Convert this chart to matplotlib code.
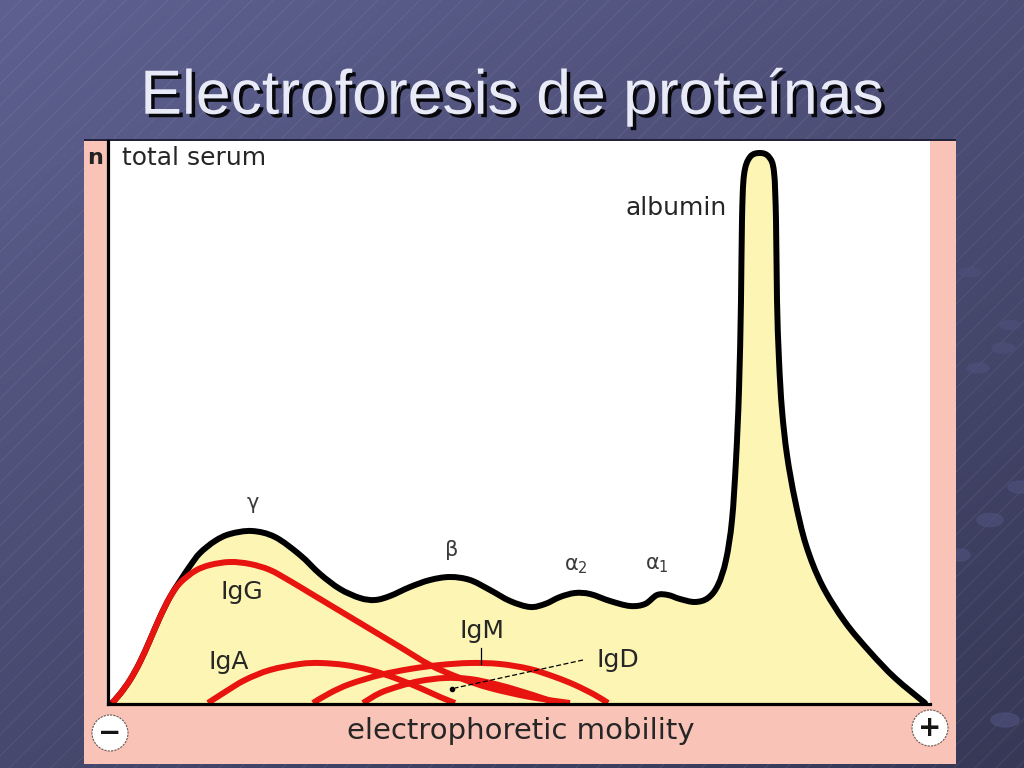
import numpy as np
import matplotlib
matplotlib.use("Agg")
import matplotlib.pyplot as plt
from matplotlib.patches import Rectangle, Circle, Ellipse, PathPatch
from matplotlib.path import Path
import matplotlib.patheffects as pe

# ---------------- data (mobility, relative concentration) ----------------
total_x = [2, 10, 20, 30, 40, 50, 60, 70, 80, 90, 105, 120, 142, 165, 190, 210,
           230, 250, 265, 280, 300, 320, 340, 360, 380, 400, 420, 435, 450, 465,
           480, 500, 520, 535, 547, 558, 570, 585, 598, 608, 616, 622, 626, 629,
           631, 632, 634, 640, 650, 659, 664, 666, 667, 669, 672, 677, 685, 696,
           712, 735, 760, 785, 815]
total_y = [0, 9, 23, 41, 63, 86, 106, 122, 137, 150, 162, 169, 172, 166, 148, 129,
           114, 105, 103, 107, 116, 123, 126, 123, 113, 102, 96, 99, 106, 110,
           109, 102, 97, 99, 108, 108, 104, 101, 105, 118, 143, 183, 243, 313,
           403, 483, 528, 546, 550, 546, 531, 483, 403, 343, 293, 248, 203, 158,
           118, 81, 51, 25, 0]

igg_x = [2, 10, 20, 30, 40, 50, 60, 70, 85, 100, 120, 140, 160, 180, 200, 220,
         240, 260, 290, 320, 350, 380, 420, 460]
igg_y = [0, 9, 23, 41, 63, 86, 106, 120, 132, 138, 141, 139, 133, 122, 110, 98,
         86, 74, 56, 38, 25, 15, 6, 0]

iga_x = [98, 115, 135, 160, 190, 210, 235, 260, 285, 310, 330, 345]
iga_y = [0, 11, 23, 33, 39, 40, 38, 33, 25, 15, 6, 0]

igm_x = [203, 220, 240, 270, 300, 330, 360, 390, 420, 445, 465, 485, 498]
igm_y = [0, 10, 19, 28, 34, 38, 40, 39, 34, 26, 18, 8, 0]

igd_x = [253, 270, 290, 310, 335, 360, 385, 410, 435, 445]
igd_y = [0, 10, 17, 22, 25, 24, 19, 12, 4, 0]

peak_labels = [r"$\mathregular{\gamma}$", r"$\mathregular{\beta}$",
               r"$\mathregular{\alpha_2}$", r"$\mathregular{\alpha_1}$"]
peak_label_x = [143, 341, 466, 547]
peak_label_y = [198, 153, 137, 138]

ig_labels = ["IgG", "IgA", "IgM", "IgD"]
ig_label_x = [132, 119, 372, 508]
ig_label_y = [111, 41, 72, 43]

title = "Electroforesis de proteínas"
xlabel = "electrophoretic mobility"


def smooth_path(xs, ys, close_to_base=False):
    """Catmull-Rom curve through the read points, rendered as Bezier path."""
    p = np.column_stack([xs, ys]).astype(float)
    n = len(p)
    verts = [p[0]]
    codes = [Path.MOVETO]
    for i in range(n - 1):
        p0 = p[max(i - 1, 0)]
        p1 = p[i]
        p2 = p[i + 1]
        p3 = p[min(i + 2, n - 1)]
        c1 = p1 + (p2 - p0) / 6.0
        c2 = p2 - (p3 - p1) / 6.0
        verts += [c1, c2, p2]
        codes += [Path.CURVE4] * 3
    if close_to_base:
        verts += [p[0], p[0]]
        codes += [Path.LINETO, Path.CLOSEPOLY]
    return Path(np.array(verts), codes)


# ---------------- figure ----------------
W, H = 1024, 768
fig = plt.figure(figsize=(W / 100, H / 100), dpi=100)

bg = fig.add_axes([0, 0, 1, 1])
bg.set_xlim(0, W)
bg.set_ylim(H, 0)
bg.axis("off")

c1 = np.array([94, 96, 144]) / 255.0
c2 = np.array([54, 56, 86]) / 255.0
gx, gy = np.meshgrid(np.linspace(0, 1, 256), np.linspace(0, 1, 192))
t = np.clip((gx * 0.6 + gy * 0.9) / 1.5, 0, 1)[..., None]
grad = c1 * (1 - t) + c2 * t
bg.imshow(grad, extent=[0, W, H, 0], aspect="auto", zorder=0)

for x0 in np.arange(-H, W + H, 21):
    bg.plot([x0, x0 + H], [H, 0], color="white", alpha=0.09, lw=0.6, zorder=1)

for (ex, ey, ew, eh) in [(970, 272, 22, 9), (1010, 325, 20, 9), (1003, 348, 22, 10),
                         (978, 368, 22, 10), (1020, 487, 24, 12), (990, 520, 26, 13),
                         (960, 555, 20, 12), (1005, 720, 28, 14)]:
    bg.add_patch(Ellipse((ex, ey), ew, eh, color=(0.30, 0.31, 0.48), alpha=0.7, zorder=1))

bg.text(512, 97, title, fontsize=45, family="Liberation Sans", color="#e8eaf7",
        ha="center", va="center", zorder=3,
        path_effects=[pe.withSimplePatchShadow(offset=(2.5, -2.5), shadow_rgbFace="black", alpha=0.9)])

bg.add_patch(Rectangle((84, 141), 872, 623, facecolor="#f9c3b8", edgecolor="none", zorder=2))
bg.add_patch(Rectangle((84, 139), 872, 2, facecolor="#22223a", edgecolor="none", zorder=2))

bg.text(87, 158, "n", fontsize=16, fontweight="bold", color="#222222", ha="left", va="center", zorder=3)

bg.text(521, 731, xlabel, fontsize=21, color="#262626", ha="center", va="center", zorder=3)
for cx, cy, sym in [(110, 733, "−"), (930, 728, "+")]:
    bg.add_patch(Circle((cx, cy), 18, facecolor="white", edgecolor="#6b5a50",
                        lw=0.8, linestyle=(0, (2, 1)), zorder=3))
    bg.text(cx, cy, sym, fontsize=20, fontweight="bold", color="#151515",
            ha="center", va="center", zorder=4)

# ---------------- main chart axes ----------------
ax = fig.add_axes([108 / W, 1 - 704 / H, 822 / W, 563 / H])
ax.set_xlim(-2, 820)
ax.set_ylim(-1, 562)
ax.set_facecolor("white")
for s in ["top", "right"]:
    ax.spines[s].set_visible(False)
for s in ["left", "bottom"]:
    ax.spines[s].set_linewidth(2.3)
    ax.spines[s].set_color("black")
    ax.spines[s].set_zorder(6)
ax.set_xticks([])
ax.set_yticks([])

ax.add_patch(PathPatch(smooth_path(total_x, total_y, close_to_base=True),
                       facecolor="#fcf5b4", edgecolor="none", zorder=1))
ax.add_patch(PathPatch(smooth_path(total_x, total_y), facecolor="none",
                       edgecolor="black", lw=4.3, joinstyle="round", capstyle="round", zorder=2))

red = "#e8140f"
for xs, ys in [(iga_x, iga_y), (igd_x, igd_y), (igm_x, igm_y), (igg_x, igg_y)]:
    ax.add_patch(PathPatch(smooth_path(xs, ys), facecolor="none", edgecolor=red,
                           lw=4.3, joinstyle="round", zorder=3))

for lab, lx, ly in zip(peak_labels, peak_label_x, peak_label_y):
    ax.text(lx, ly, lab, fontsize=15, color="#3a3a3a", ha="center", va="center", zorder=5)

for lab, lx, ly in zip(ig_labels, ig_label_x, ig_label_y):
    ax.text(lx, ly, lab, fontsize=18, color="#262626", ha="center", va="center", zorder=5)

ax.text(12, 545, "total serum", fontsize=18, color="#262626", ha="left", va="center", zorder=5)
ax.text(617, 495, "albumin", fontsize=18, color="#262626", ha="right", va="center", zorder=5)

ax.plot([371, 371], [55, 39], color="black", lw=0.9, zorder=4)
ax.plot([473, 345], [43, 15], color="black", lw=0.9, linestyle=(0, (4, 2)), zorder=4)
ax.plot([342], [14], marker="o", ms=3, color="black", zorder=4)

fig.savefig("out.png", dpi=100)
